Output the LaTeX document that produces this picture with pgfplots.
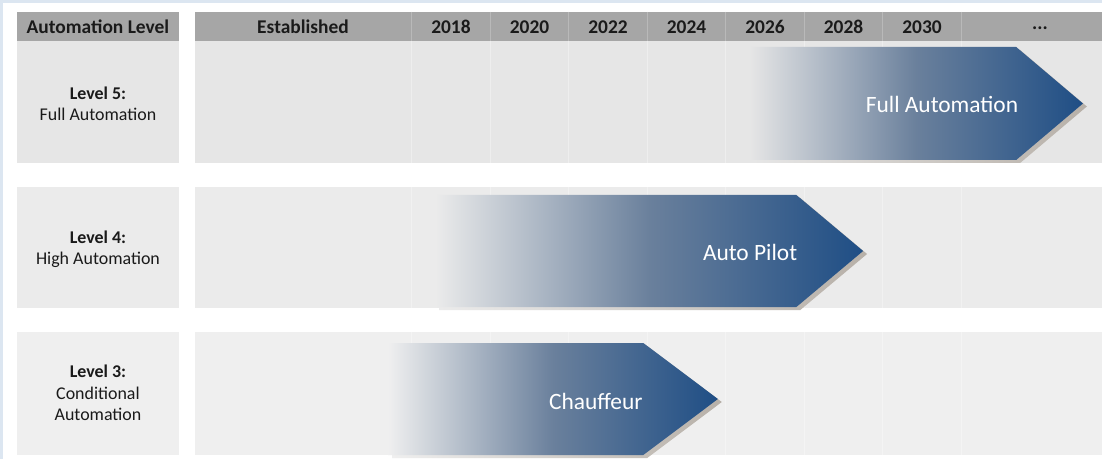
\documentclass[border=0pt]{standalone}
\usepackage{pgfplots}
\pgfplotsset{compat=1.18}
\usepackage{fontspec}
\setmainfont{Carlito}
\definecolor{edgeblue}{HTML}{DCE6F1}
\definecolor{hdr}{HTML}{A6A6A6}
\definecolor{hdrline}{HTML}{B9B9B9}
\definecolor{rowA}{HTML}{E6E6E6}
\definecolor{rowB}{HTML}{EBEBEB}
\definecolor{rowC}{HTML}{EFEFEF}
\definecolor{arrowdark}{HTML}{1F4E85}
\definecolor{arrowmid}{HTML}{6A809C}
\definecolor{shadowc}{HTML}{B7B0A8}
\definecolor{txt}{HTML}{1A1A1A}
\begin{document}
\begin{tikzpicture}
\begin{axis}[
  width=1102bp, height=459bp, scale only axis,
  xmin=2006.51, xmax=2034.586, ymin=0, ymax=459, y dir=reverse,
  hide axis, clip=false]
% background
\fill[white] (axis cs:2006.51,0) rectangle (axis cs:2034.586,459);
\fill[edgeblue] (axis cs:2006.51,0) rectangle (axis cs:2034.586,3);
\fill[edgeblue] (axis cs:2006.51,0) rectangle (axis cs:2006.586,459);
% header
\fill[hdr] (axis cs:2006.943,12) rectangle (axis cs:2011.070,41);
\fill[hdr] (axis cs:2011.478,12) rectangle (axis cs:2034.586,41);
\pgfplotsinvokeforeach{2017,2019,...,2031}{\draw[hdrline,line width=1bp] (axis cs:#1,12) -- (axis cs:#1,41);}
% rows
\fill[rowA] (axis cs:2006.943,41) rectangle (axis cs:2011.070,163);
\fill[rowA] (axis cs:2011.478,41) rectangle (axis cs:2034.586,163);
\fill[rowB] (axis cs:2006.943,187) rectangle (axis cs:2011.070,308);
\fill[rowB] (axis cs:2011.478,187) rectangle (axis cs:2034.586,308);
\fill[rowC] (axis cs:2006.943,332) rectangle (axis cs:2011.070,455);
\fill[rowC] (axis cs:2011.478,332) rectangle (axis cs:2034.586,455);
\pgfplotsinvokeforeach{2017,2019,...,2031}{
  \draw[white,opacity=0.35,line width=1bp] (axis cs:#1,41) -- (axis cs:#1,163);
  \draw[white,opacity=0.35,line width=1bp] (axis cs:#1,187) -- (axis cs:#1,308);
  \draw[white,opacity=0.35,line width=1bp] (axis cs:#1,332) -- (axis cs:#1,455);}
% header text
\node[font=\fontsize{19.5}{22}\selectfont\bfseries,text=txt] at (axis cs:2009.006,27) {Automation Level};
\node[font=\fontsize{19.5}{22}\selectfont\bfseries,text=txt] at (axis cs:2014.229,27) {Established};
\pgfplotsinvokeforeach{2018,2020,...,2030}{\node[font=\fontsize{19.5}{22}\selectfont\bfseries,text=txt] at (axis cs:#1,27) {#1};}
\node[font=\fontsize{19.5}{22}\selectfont\bfseries,text=txt] at (axis cs:2033.006,28) {...};
% row labels
\node[font=\fontsize{18}{21.5}\selectfont,text=txt,align=center] at (axis cs:2009.006,104) {\textbf{Level 5:}\\Full Automation};
\node[font=\fontsize{18}{21.5}\selectfont,text=txt,align=center] at (axis cs:2009.006,249) {\textbf{Level 4:}\\High Automation};
\node[font=\fontsize{18}{21.5}\selectfont,text=txt,align=center] at (axis cs:2009.006,393) {\textbf{Level 3:}\\Conditional\\Automation};
% soft shadows
\addplot[draw=none, left color=rowA, right color=shadowc] coordinates {(2025.7,50) (2032.5,50) (2034.2,106.5) (2032.5,163) (2025.7,163)} -- cycle;
\addplot[draw=none, left color=rowB, right color=shadowc] coordinates {(2017.7,198) (2026.9,198) (2028.6,254) (2026.9,310) (2017.7,310)} -- cycle;
\addplot[draw=none, left color=rowC, right color=shadowc] coordinates {(2016.5,346) (2023.0,346) (2024.9,402) (2023.0,458) (2016.5,458)} -- cycle;
% arrows
\addplot[draw=none, left color=rowA, right color=arrowdark, middle color=arrowmid] coordinates {(2025.6,47) (2032.4,47) (2034.1,103.5) (2032.4,160) (2025.6,160)} -- cycle;
\addplot[draw=none, left color=rowB, right color=arrowdark, middle color=arrowmid] coordinates {(2017.6,195) (2026.8,195) (2028.5,251) (2026.8,307) (2017.6,307)} -- cycle;
\addplot[draw=none, left color=rowC, right color=arrowdark, middle color=arrowmid] coordinates {(2016.4,343) (2022.9,343) (2024.8,399) (2022.9,455) (2016.4,455)} -- cycle;
% arrow labels
\node[font=\fontsize{23.5}{28}\selectfont,text=white] at (axis cs:2030.51,104) {Full Automation};
\node[font=\fontsize{23.5}{28}\selectfont,text=white] at (axis cs:2025.62,252) {Auto Pilot};
\node[font=\fontsize{23.5}{28}\selectfont,text=white] at (axis cs:2021.69,401) {Chauffeur};
\end{axis}
\end{tikzpicture}
\end{document}
